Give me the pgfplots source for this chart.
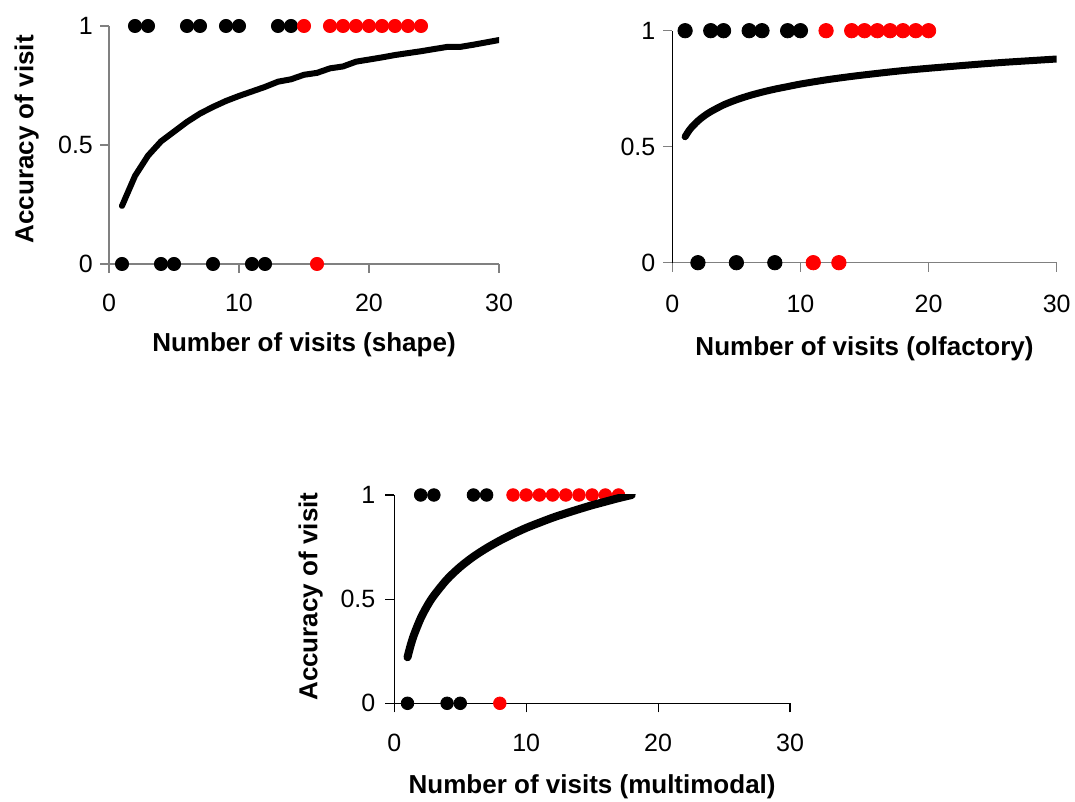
\documentclass[border=0pt]{standalone}
\usepackage{fontspec}
\setmainfont{Liberation Sans}
\usepackage{pgfplots}
\pgfplotsset{compat=1.18}
\definecolor{axgray}{RGB}{128,128,128}
\newcommand{\lblfont}{\fontsize{13}{15}\selectfont\bfseries}
\newcommand{\tf}{\fontsize{12.5}{14}\selectfont}
\pgfplotsset{
  panel/.style={
    scale only axis, anchor=south west,
    xmin=0, xmax=30, ymin=0, ymax=1,
    axis lines*=left,
    xtick={0,10,20,30}, ytick={0,0.5,1},
    xticklabels={{\tf 0},{\tf 10},{\tf 20},{\tf 30}},
    yticklabels={{\tf 0},{\tf 0.5},{\tf 1}},
    tick align=outside, major tick length=4.5pt,
    tick style={line width=0.6pt},
    axis line style={line width=0.6pt},
    clip mode=individual,
    every axis y label/.style={rotate=90, anchor=base, inner sep=0pt, font=\lblfont},
    every axis x label/.style={anchor=base, inner sep=0pt, font=\lblfont},
  },
  blk/.style={only marks, mark=*, mark options={fill=black, draw=black}, black},
  rd/.style={only marks, mark=*, mark options={fill=red, draw=red}, red},
  crv/.style={black, no marks, line join=round, line cap=round},
}
\begin{document}
\begin{tikzpicture}
\path[use as bounding box] (0,0) rectangle (537.5pt,401pt);
% Panel 1: shape
\begin{axis}[panel, at={(54.5pt,269pt)}, width=195pt, height=119pt,
  axis line style={axgray, line width=0.6pt}, tick style={axgray, line width=0.6pt},
  yticklabel style={inner sep=0pt, anchor=east, xshift=-3.35pt},
  xticklabel style={inner sep=0pt, anchor=north, yshift=-10.35pt},
  ylabel={Accuracy of visit},
  ylabel style={at={(axis description cs:-0.1941,0.524)}},
  xlabel={Number of visits (shape)},
  xlabel style={at={(axis description cs:0.5,0)}, yshift=-43.9pt}]
\addplot[blk, mark size=3.3pt] coordinates {(2,1)(3,1)(6,1)(7,1)(9,1)(10,1)(13,1)(14,1)
  (1,0)(4,0)(5,0)(8,0)(11,0)(12,0)};
\addplot[rd, mark size=3.3pt] coordinates {(15,1)(17,1)(18,1)(19,1)(20,1)(21,1)(22,1)(23,1)(24,1)(16,0)};
\addplot[crv, line width=3pt] coordinates {
(1,0.244)(2,0.370)(3,0.455)(4,0.515)(5,0.556)(6,0.597)(7,0.632)(8,0.660)(9,0.685)(10,0.706)
(11,0.725)(12,0.744)(13,0.766)(14,0.776)(15,0.795)(16,0.803)(17,0.822)(18,0.830)(19,0.850)(20,0.859)
(21,0.868)(22,0.878)(23,0.886)(24,0.894)(25,0.903)(26,0.912)(27,0.912)(28,0.921)(29,0.931)(30,0.941)};
\end{axis}
% Panel 2: olfactory
\begin{axis}[panel, at={(336.15pt,269.65pt)}, width=192.2pt, height=116pt,
  x axis line style={axgray, line width=0.6pt}, y axis line style={black, line width=0.6pt},
  tick style={axgray, line width=0.6pt},
  yticklabel style={inner sep=0pt, anchor=east, xshift=-3.8pt},
  xticklabel style={inner sep=0pt, anchor=north, yshift=-11.3pt},
  xlabel={Number of visits (olfactory)},
  xlabel style={at={(axis description cs:0.5,0)}, yshift=-46.2pt}]
\addplot[blk, mark size=3.6pt] coordinates {(1,1)(3,1)(4,1)(6,1)(7,1)(9,1)(10,1)
  (2,0)(5,0)(8,0)};
\addplot[rd, mark size=3.6pt] coordinates {(12,1)(14,1)(15,1)(16,1)(17,1)(18,1)(19,1)(20,1)(11,0)(13,0)};
\addplot[crv, line width=3.5pt, smooth] coordinates {
(1,0.543)(1.25,0.565)(1.5,0.583)(2,0.611)(2.5,0.633)(3,0.651)(4,0.680)(5,0.702)(6,0.720)(7,0.735)
(8,0.748)(9,0.759)(10,0.770)(12,0.788)(14,0.803)(16,0.816)(18,0.828)(20,0.838)(22,0.847)(24,0.856)
(26,0.864)(28,0.871)(30,0.878)};
\end{axis}
% Panel 3: multimodal
\begin{axis}[panel, at={(197.15pt,49.35pt)}, width=197.85pt, height=104.15pt,
  axis line style={black, line width=0.6pt}, tick style={black, line width=0.6pt},
  yticklabel style={inner sep=0pt, anchor=east, xshift=-4.8pt},
  xticklabel style={inner sep=0pt, anchor=north, yshift=-10.7pt},
  ylabel={Accuracy of visit},
  ylabel style={at={(axis description cs:-0.1946,0.512)}},
  xlabel={Number of visits (multimodal)},
  xlabel style={at={(axis description cs:0.5,0)}, yshift=-45pt}]
\addplot[blk, mark size=3.15pt] coordinates {(2,1)(3,1)(6,1)(7,1)(1,0)(4,0)(5,0)};
\addplot[rd, mark size=3.15pt] coordinates {(9,1)(10,1)(11,1)(12,1)(13,1)(14,1)(15,1)(16,1)(17,1)(8,0)};
\addplot[crv, line width=4pt, smooth] coordinates {
(1,0.221)(1.25,0.281)(1.5,0.330)(2,0.408)(2.5,0.468)(3,0.517)(4,0.595)(5,0.655)(6,0.704)(7,0.745)
(8,0.781)(9,0.813)(10,0.842)(11,0.867)(12,0.891)(13,0.912)(14,0.932)(15,0.951)(16,0.968)(17,0.985)(18,1.0)};
\end{axis}
\end{tikzpicture}
\end{document}
